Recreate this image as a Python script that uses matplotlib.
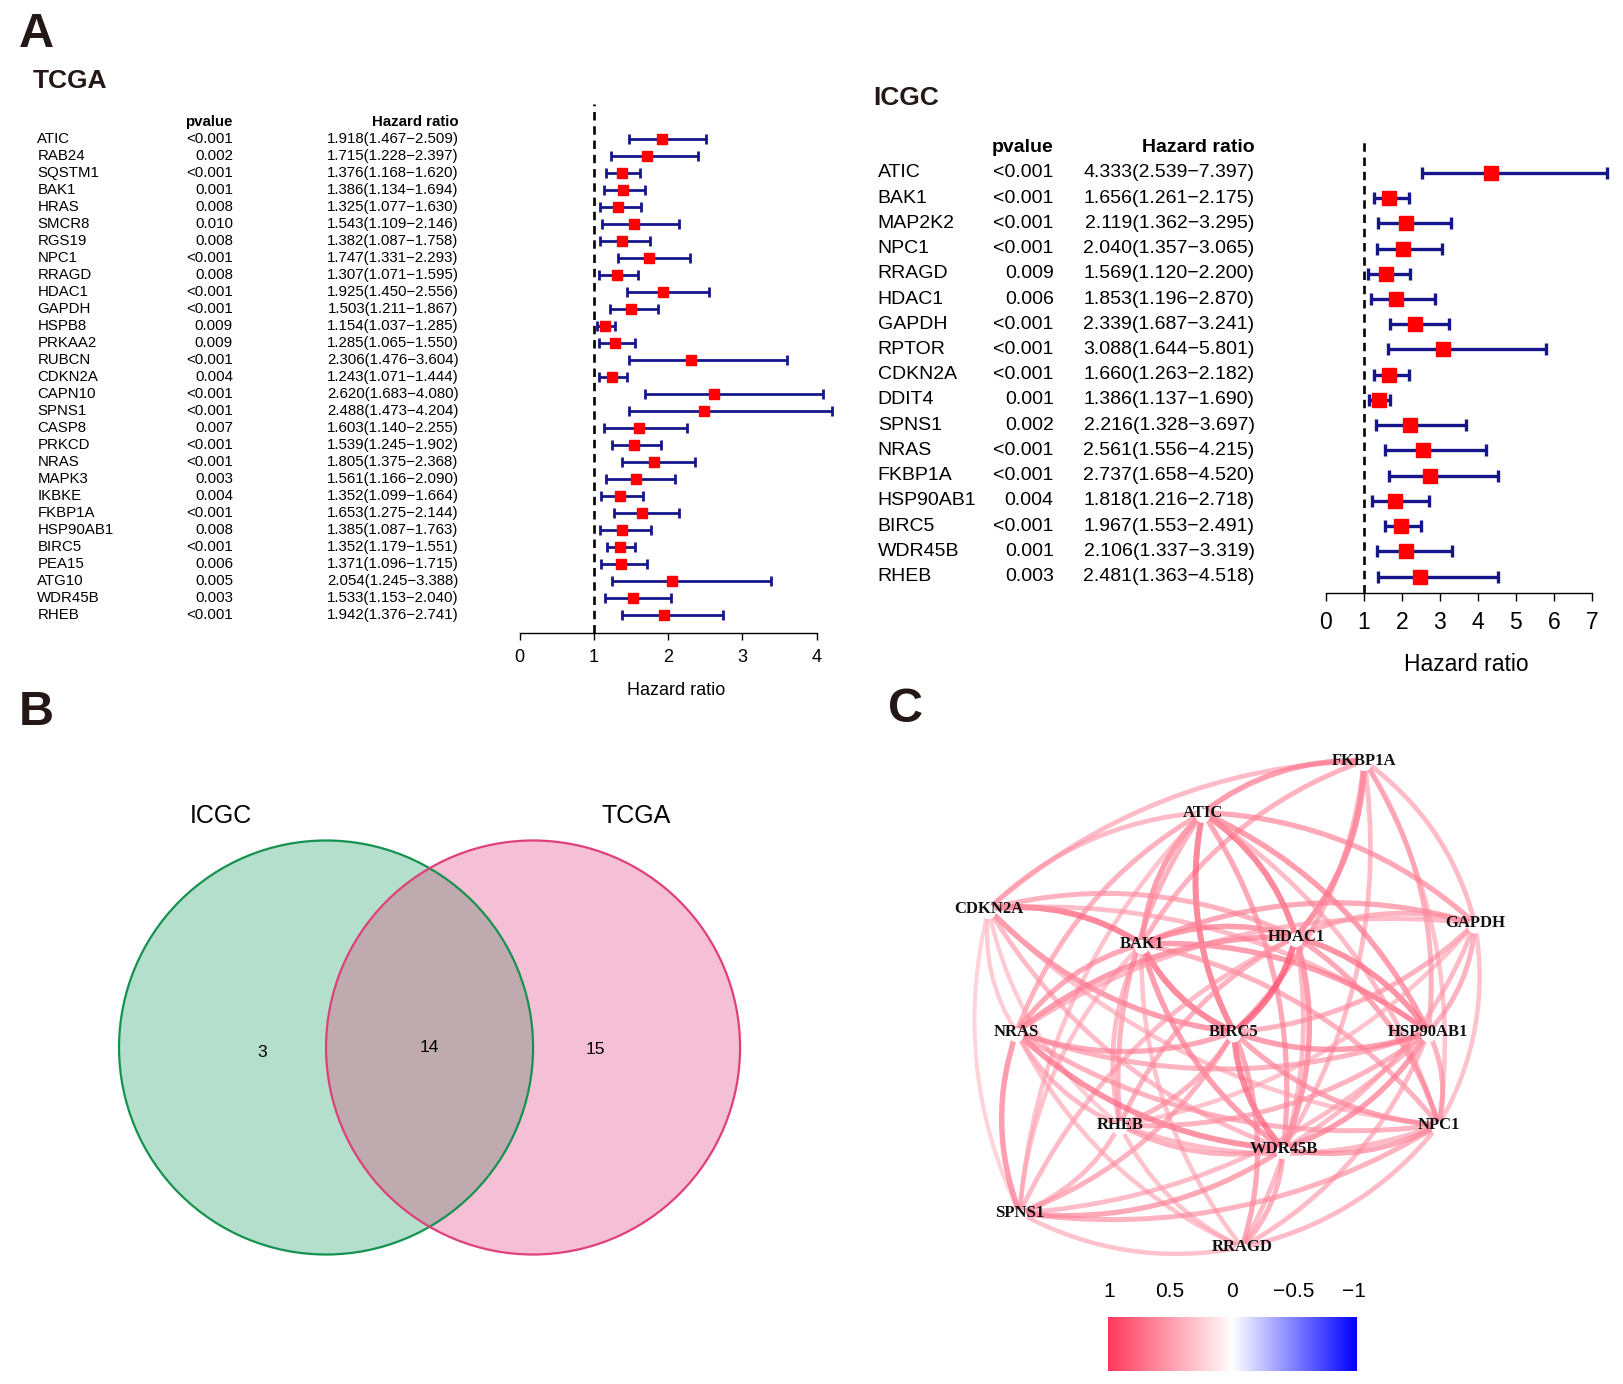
import numpy as np
import matplotlib
matplotlib.use("Agg")
import matplotlib.pyplot as plt
from matplotlib.patches import Circle, PathPatch
from matplotlib.path import Path
from matplotlib.colors import LinearSegmentedColormap, Normalize
import matplotlib.transforms as mtransforms

# ---------------- data ----------------
tcga_genes = ["ATIC", "RAB24", "SQSTM1", "BAK1", "HRAS", "SMCR8", "RGS19", "NPC1", "RRAGD",
              "HDAC1", "GAPDH", "HSPB8", "PRKAA2", "RUBCN", "CDKN2A", "CAPN10", "SPNS1", "CASP8",
              "PRKCD", "NRAS", "MAPK3", "IKBKE", "FKBP1A", "HSP90AB1", "BIRC5", "PEA15", "ATG10",
              "WDR45B", "RHEB"]
tcga_p = ["<0.001", "0.002", "<0.001", "0.001", "0.008", "0.010", "0.008", "<0.001", "0.008",
          "<0.001", "<0.001", "0.009", "0.009", "<0.001", "0.004", "<0.001", "<0.001", "0.007",
          "<0.001", "<0.001", "0.003", "0.004", "<0.001", "0.008", "<0.001", "0.006", "0.005",
          "0.003", "<0.001"]
tcga_hr = [1.918, 1.715, 1.376, 1.386, 1.325, 1.543, 1.382, 1.747, 1.307, 1.925, 1.503, 1.154,
           1.285, 2.306, 1.243, 2.620, 2.488, 1.603, 1.539, 1.805, 1.561, 1.352, 1.653, 1.385,
           1.352, 1.371, 2.054, 1.533, 1.942]
tcga_lo = [1.467, 1.228, 1.168, 1.134, 1.077, 1.109, 1.087, 1.331, 1.071, 1.450, 1.211, 1.037,
           1.065, 1.476, 1.071, 1.683, 1.473, 1.140, 1.245, 1.375, 1.166, 1.099, 1.275, 1.087,
           1.179, 1.096, 1.245, 1.153, 1.376]
tcga_hi = [2.509, 2.397, 1.620, 1.694, 1.630, 2.146, 1.758, 2.293, 1.595, 2.556, 1.867, 1.285,
           1.550, 3.604, 1.444, 4.080, 4.204, 2.255, 1.902, 2.368, 2.090, 1.664, 2.144, 1.763,
           1.551, 1.715, 3.388, 2.040, 2.741]

icgc_genes = ["ATIC", "BAK1", "MAP2K2", "NPC1", "RRAGD", "HDAC1", "GAPDH", "RPTOR", "CDKN2A",
              "DDIT4", "SPNS1", "NRAS", "FKBP1A", "HSP90AB1", "BIRC5", "WDR45B", "RHEB"]
icgc_p = ["<0.001", "<0.001", "<0.001", "<0.001", "0.009", "0.006", "<0.001", "<0.001", "<0.001",
          "0.001", "0.002", "<0.001", "<0.001", "0.004", "<0.001", "0.001", "0.003"]
icgc_hr = [4.333, 1.656, 2.119, 2.040, 1.569, 1.853, 2.339, 3.088, 1.660, 1.386, 2.216, 2.561,
           2.737, 1.818, 1.967, 2.106, 2.481]
icgc_lo = [2.539, 1.261, 1.362, 1.357, 1.120, 1.196, 1.687, 1.644, 1.263, 1.137, 1.328, 1.556,
           1.658, 1.216, 1.553, 1.337, 1.363]
icgc_hi = [7.397, 2.175, 3.295, 3.065, 2.200, 2.870, 3.241, 5.801, 2.182, 1.690, 3.697, 4.215,
           4.520, 2.718, 2.491, 3.319, 4.518]

venn_sets = ["ICGC", "TCGA"]
venn_counts = [3, 14, 15]   # ICGC only, both, TCGA only

net_nodes = ["FKBP1A", "ATIC", "CDKN2A", "BAK1", "HDAC1", "GAPDH", "NRAS", "BIRC5",
             "HSP90AB1", "RHEB", "NPC1", "WDR45B", "SPNS1", "RRAGD"]
edge_pairs = [
    ("FKBP1A", "CDKN2A"), ("FKBP1A", "ATIC"), ("FKBP1A", "HDAC1"), ("FKBP1A", "GAPDH"),
    ("FKBP1A", "HSP90AB1"), ("FKBP1A", "BAK1"), ("FKBP1A", "NPC1"), ("FKBP1A", "WDR45B"),
    ("FKBP1A", "BIRC5"), ("ATIC", "CDKN2A"), ("ATIC", "BAK1"), ("ATIC", "HDAC1"),
    ("ATIC", "BIRC5"), ("ATIC", "NRAS"), ("ATIC", "RHEB"), ("ATIC", "GAPDH"),
    ("ATIC", "WDR45B"), ("ATIC", "HSP90AB1"), ("ATIC", "NPC1"), ("ATIC", "SPNS1"),
    ("CDKN2A", "BAK1"), ("CDKN2A", "HDAC1"), ("CDKN2A", "BIRC5"), ("CDKN2A", "HSP90AB1"),
    ("CDKN2A", "NRAS"), ("CDKN2A", "SPNS1"), ("CDKN2A", "RHEB"), ("CDKN2A", "WDR45B"),
    ("CDKN2A", "NPC1"), ("BAK1", "HDAC1"), ("BAK1", "GAPDH"), ("BAK1", "BIRC5"),
    ("BAK1", "NRAS"), ("BAK1", "RHEB"), ("BAK1", "WDR45B"), ("BAK1", "HSP90AB1"),
    ("BAK1", "NPC1"), ("BAK1", "RRAGD"), ("BAK1", "SPNS1"), ("HDAC1", "GAPDH"),
    ("HDAC1", "BIRC5"), ("HDAC1", "NRAS"), ("HDAC1", "HSP90AB1"), ("HDAC1", "NPC1"),
    ("HDAC1", "WDR45B"), ("HDAC1", "RHEB"), ("HDAC1", "SPNS1"), ("HDAC1", "RRAGD"),
    ("GAPDH", "HSP90AB1"), ("GAPDH", "NPC1"), ("GAPDH", "NRAS"), ("GAPDH", "BIRC5"),
    ("GAPDH", "WDR45B"), ("GAPDH", "RHEB"), ("NRAS", "BIRC5"), ("NRAS", "HSP90AB1"),
    ("NRAS", "WDR45B"), ("NRAS", "SPNS1"), ("NRAS", "NPC1"), ("NRAS", "RHEB"),
    ("NRAS", "RRAGD"), ("BIRC5", "HSP90AB1"), ("BIRC5", "WDR45B"), ("BIRC5", "RRAGD"),
    ("BIRC5", "NPC1"), ("BIRC5", "SPNS1"), ("BIRC5", "RHEB"), ("HSP90AB1", "NPC1"),
    ("HSP90AB1", "WDR45B"), ("HSP90AB1", "RHEB"), ("HSP90AB1", "SPNS1"), ("HSP90AB1", "RRAGD"),
    ("RHEB", "WDR45B"), ("RHEB", "NPC1"), ("RHEB", "SPNS1"), ("RHEB", "RRAGD"),
    ("NPC1", "WDR45B"), ("NPC1", "SPNS1"), ("NPC1", "RRAGD"), ("WDR45B", "SPNS1"),
    ("WDR45B", "RRAGD"), ("SPNS1", "RRAGD")]
edge_r = [0.55, 0.70, 0.75, 0.55, 0.60, 0.60, 0.50, 0.55, 0.60, 0.55, 0.70, 0.80,
          0.80, 0.60, 0.60, 0.65, 0.65, 0.70, 0.55, 0.50, 0.80, 0.60, 0.70, 0.55,
          0.45, 0.40, 0.45, 0.55, 0.50, 0.70, 0.65, 0.80, 0.65, 0.55, 0.70, 0.70,
          0.60, 0.50, 0.50, 0.60, 0.85, 0.70, 0.75, 0.65, 0.70, 0.60, 0.55, 0.55,
          0.60, 0.50, 0.55, 0.60, 0.55, 0.50, 0.65, 0.60, 0.75, 0.70, 0.60, 0.55,
          0.50, 0.70, 0.80, 0.65, 0.65, 0.60, 0.60, 0.60, 0.70, 0.60, 0.55, 0.55,
          0.60, 0.55, 0.55, 0.50, 0.65, 0.60, 0.55, 0.65, 0.60, 0.50]
cbar_ticks = [1, 0.5, 0, -0.5, -1]

# ---------------- layout helpers ----------------
W, H = 1623, 1384
S = W / 1568.0


def fx(x):
    return x * S / W


def fy(y):
    return 1 - y * S / H


fig = plt.figure(figsize=(W / 100, H / 100), dpi=100)
plt.rcParams['font.family'] = ['Liberation Sans', 'DejaVu Sans']


def add_ax(l, t, r, b):
    return fig.add_axes([fx(l), fy(b), fx(r) - fx(l), fy(t) - fy(b)])


NARROW = ['Liberation Sans Narrow', 'Liberation Sans', 'DejaVu Sans']
NAVY = '#16168c'


def forest(ax, genes, pv, hr, lo, hi, xmax, fs_txt, fs_tick, ms, elw, cap,
           x_gene, x_p, x_hr, tick_len, tick_pad):
    n = len(genes)
    y = np.arange(n)
    hr = np.array(hr); lo = np.array(lo); hi = np.array(hi)
    ax.axvline(1, color='black', ls=(0, (3.2, 2.2)), lw=1.9, zorder=1)
    ax.errorbar(hr, y, xerr=[hr - lo, hi - hr], fmt='none', ecolor=NAVY,
                elinewidth=elw, capsize=cap, capthick=elw, zorder=2)
    ax.plot(hr, y, 's', color='#ff0000', ms=ms, mec='#ff0000', zorder=3)
    for s in ['top', 'left', 'right']:
        ax.spines[s].set_visible(False)
    ax.spines['bottom'].set_bounds(0, xmax)
    ax.spines['bottom'].set_linewidth(1.0)
    ax.set_xticks(range(0, xmax + 1))
    ax.set_yticks([])
    ax.tick_params(axis='x', length=tick_len, width=1.0, pad=tick_pad, labelsize=fs_tick)
    ax.patch.set_alpha(0)
    trans = mtransforms.blended_transform_factory(fig.transFigure, ax.transData)
    kw = dict(transform=trans, va='center', clip_on=False)
    ax.text(fx(x_p), -1, "pvalue", ha='right', fontsize=fs_txt, fontweight='bold', **kw)
    ax.text(fx(x_hr), -1, "Hazard ratio", ha='right', fontsize=fs_txt, fontweight='bold', **kw)
    for i in range(n):
        ax.text(fx(x_gene), i, genes[i], ha='left', fontsize=fs_txt, **kw)
        ax.text(fx(x_p), i, pv[i], ha='right', fontsize=fs_txt, **kw)
        ax.text(fx(x_hr), i, "%.3f(%.3f\u2212%.3f)" % (hr[i], lo[i], hi[i]), ha='right',
                fontsize=fs_txt, family=NARROW, **kw)


# ---- TCGA forest ----
t0, tu = 502, 71.75
ax1 = add_ax(480, 100, 815, 612)
ax1.set_xlim((480 - t0) / tu, (815 - t0) / tu)
r0, dr = 134, 16.43
ax1.set_ylim((612 - r0) / dr, (100 - r0) / dr)
forest(ax1, tcga_genes, tcga_p, tcga_hr, tcga_lo, tcga_hi, 4, 10.8, 13, 7.5, 2.0, 3.6,
       36, 225, 443, 5, 6)
fig.text(fx(653), fy(667), "Hazard ratio", ha='center', va='center', fontsize=13)

# ---- ICGC forest ----
i0, iu = 1281, 36.71
ax2 = add_ax(1265, 133, 1560, 573)
ax2.set_xlim((1265 - i0) / iu, (1560 - i0) / iu)
q0, dq = 167, 24.375
ax2.set_ylim((573 - q0) / dq, (133 - q0) / dq)
forest(ax2, icgc_genes, icgc_p, icgc_hr, icgc_lo, icgc_hi, 7, 14, 16.5, 9.5, 2.4, 4.2,
       848, 1018, 1212, 6, 7)
fig.text(fx(1417), fy(642), "Hazard ratio", ha='center', va='center', fontsize=16.5)

# ---- titles / panel letters ----
fig.text(fx(35), fy(33), "A", ha='center', va='center', fontsize=35, fontweight='heavy', color='#231815')
fig.text(fx(35), fy(688), "B", ha='center', va='center', fontsize=35, fontweight='heavy', color='#231815')
fig.text(fx(875), fy(685), "C", ha='center', va='center', fontsize=35, fontweight='heavy', color='#231815')
fig.text(fx(68), fy(78), "TCGA", ha='center', va='center', fontsize=19, fontweight='bold', color='#231815')
fig.text(fx(875), fy(95), "ICGC", ha='center', va='center', fontsize=19, fontweight='bold', color='#231815')

# ---- Venn ----
axv = add_ax(80, 740, 760, 1250)
axv.set_xlim(80, 760)
axv.set_ylim(1250, 740)
axv.axis('off')
cA = (315, 1012); cB = (515, 1012); R = 200
f1 = Circle(cA, R, facecolor='#b3dfcc', edgecolor='none', zorder=1)
f2 = Circle(cB, R, facecolor='#f5bfd5', edgecolor='none', zorder=1)
axv.add_patch(f1); axv.add_patch(f2)
lens = Circle(cB, R, facecolor='#bfaab0', edgecolor='none', zorder=2)
axv.add_patch(lens)
lens.set_clip_path(f1)
axv.add_patch(Circle(cA, R, facecolor='none', edgecolor='#15924f', lw=1.6, zorder=3))
axv.add_patch(Circle(cB, R, facecolor='none', edgecolor='#e0407a', lw=1.6, zorder=3))
axv.text(213, 788, venn_sets[0], ha='center', va='center', fontsize=18)
axv.text(615, 788, venn_sets[1], ha='center', va='center', fontsize=18)
axv.text(253, 1017, str(venn_counts[0]), ha='center', va='center', fontsize=12.5)
axv.text(415, 1012, str(venn_counts[1]), ha='center', va='center', fontsize=12.5)
axv.text(575, 1014, str(venn_counts[2]), ha='center', va='center', fontsize=12.5)

# ---- network ----
node_pos = {"FKBP1A": (1318, 735), "ATIC": (1162, 785), "CDKN2A": (955, 878),
            "BAK1": (1103, 912), "HDAC1": (1252, 905), "GAPDH": (1425, 892),
            "NRAS": (982, 997), "BIRC5": (1192, 997), "HSP90AB1": (1380, 997),
            "RHEB": (1082, 1087), "NPC1": (1390, 1087), "WDR45B": (1240, 1110),
            "SPNS1": (985, 1172), "RRAGD": (1200, 1205)}
cmap = LinearSegmentedColormap.from_list('cor', ['#0000ff', '#ffffff', '#ff3a5c'])
norm = Normalize(-1, 1)
axn = add_ax(880, 700, 1480, 1240)
axn.set_xlim(880, 1480)
axn.set_ylim(1240, 700)
axn.axis('off')
center = np.array([1190.0, 975.0])
for (a, b), r in zip(edge_pairs, edge_r):
    p1 = np.array(node_pos[a], float); p2 = np.array(node_pos[b], float)
    d = p2 - p1
    L = np.hypot(*d)
    nvec = np.array([-d[1], d[0]]) / L
    m = (p1 + p2) / 2
    if np.dot(nvec, m - center) < 0:
        nvec = -nvec
    ctrl = m + nvec * 0.18 * L
    path = Path([p1, ctrl, p2], [Path.MOVETO, Path.CURVE3, Path.CURVE3])
    axn.add_patch(PathPatch(path, facecolor='none', edgecolor=cmap(norm(r)),
                            lw=1.5 + 3.5 * r, alpha=0.35 + 0.5 * r, zorder=2,
                            capstyle='round'))
for nm in net_nodes:
    x, y = node_pos[nm]
    axn.add_patch(Circle((x, y + 3), 7, facecolor='white', edgecolor='none', zorder=3))
    axn.text(x, y, nm, ha='center', va='center', fontsize=12, fontweight='bold',
             family=['Liberation Serif', 'DejaVu Serif'], color='#111111', zorder=4)

# ---- colour bar ----
axc = add_ax(1070, 1272, 1310, 1325)
grad = np.linspace(1, -1, 512)[None, :]
axc.imshow(grad, cmap=cmap, norm=norm, aspect='auto', extent=[0, 1, 0, 1])
axc.axis('off')
for v in cbar_ticks:
    xpos = 1070 + (1 - v) / 2 * 240
    xpos = xpos + (2 if v == 1 else (-2 if v == -1 else 0))
    lab = ("%g" % v).replace('-', '\u2212')
    fig.text(fx(xpos), fy(1248), lab, ha='center', va='center', fontsize=15)

fig.savefig("out.png", dpi=100)
